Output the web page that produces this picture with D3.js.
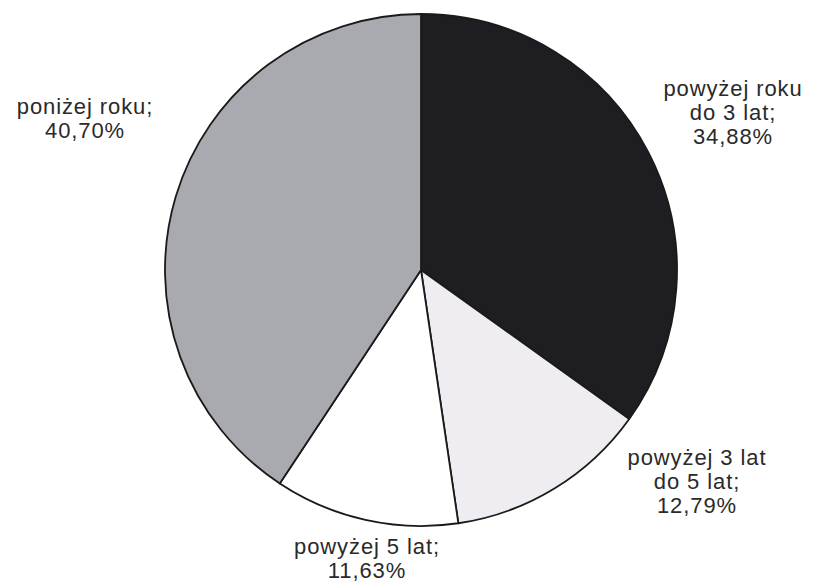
<!DOCTYPE html>
<html>
<head>
<meta charset="utf-8">
<script src="https://cdn.jsdelivr.net/npm/d3@7"></script>
<style>
  body { margin: 0; background: #fff; }
  svg { display: block; }
</style>
</head>
<body>
<div id="pie"></div>
<script>
// slices, clockwise from 12 o'clock
let categories = ["powyżej roku do 3 lat", "powyżej 3 lat do 5 lat", "powyżej 5 lat", "poniżej roku"]
let values = [34.88, 12.79, 11.63, 40.70]
let labelLines = [
    ["powyżej roku", "do 3 lat;", "34,88%"],
    ["powyżej 3 lat", "do 5 lat;", "12,79%"],
    ["powyżej 5 lat;", "11,63%"],
    ["poniżej roku;", "40,70%"]
]

function createPie(){
    let width = 816
    let height = 582
    let cx = 421, cy = 270
    let radius = 256

    let svg = d3.select('#pie')
        .append('svg')
        .attr('width', width)
        .attr('height', height)

    let g = svg.append('g')
        .attr('transform', "translate(" + cx + "," + cy + ")")

    let color = d3.scaleOrdinal()
        .domain(categories)
        .range(["#1e1e22", "#efedf2", "#ffffff", "#a9aaaf"])

    let pie = d3.pie().sort(null).value(d => d.value)
    let arcs = pie(categories.map((c, i) => ({key: c, value: values[i]})))

    let arc = d3.arc().innerRadius(0).outerRadius(radius)

    g.selectAll('path')
        .data(arcs)
        .enter()
        .append('path')
        .attr('d', arc)
        .style('fill', d => color(d.data.key))
        .style('stroke', '#1a1a1a')
        .style('stroke-width', 1.8)
        .style('stroke-linejoin', 'round')

    // label anchors (centre of text block, first baseline) relative to pie centre
    let labelOffset = [[312, -174], [276, 195], [-54, 284], [-336, -156]]
    let lineStep = 24

    let labels = g.selectAll('text.lbl')
        .data(arcs)
        .enter()
        .append('text')
        .attr('class', 'lbl')
        .attr('x', (d, i) => labelOffset[i][0])
        .attr('y', (d, i) => labelOffset[i][1])
        .attr('text-anchor', 'middle')
        .style('font-family', '"Liberation Sans", Arial, sans-serif')
        .style('font-size', '22px')
        .style('letter-spacing', '0.9px')
        .style('fill', '#2a2a2a')

    labels.each(function(d, i){
        d3.select(this).selectAll('tspan')
            .data(labelLines[i])
            .enter()
            .append('tspan')
            .attr('x', labelOffset[i][0])
            .attr('dy', (t, j) => j == 0 ? 0 : lineStep)
            .text(t => t)
    })
}

createPie()
</script>
</body>
</html>
